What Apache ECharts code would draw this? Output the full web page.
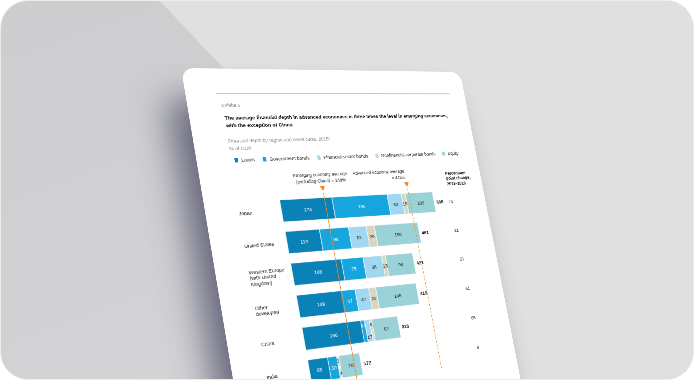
<!DOCTYPE html>
<html>
<head>
<meta charset="utf-8">
<title>Financial depth by region</title>
<script src="https://cdn.jsdelivr.net/npm/echarts@6.0.0/dist/echarts.min.js"></script>
<style>
  html, body { margin: 0; padding: 0; background: #ffffff; }
  #frame {
    position: absolute; left: 0; top: 0; width: 692px; height: 378px;
    border: 1px solid #ececec; border-radius: 28px; overflow: hidden;
    background: linear-gradient(160deg, #cdcdcf 0%, #d2d2d4 60%, #d8d8da 100%);
  }
  #light {
    position: absolute; left: 0; top: 0; width: 694px; height: 380px;
    background: #e0e0e0;
    clip-path: polygon(159px 0, 694px 0, 694px 380px, 517px 380px);
  }
  #paper {
    position: absolute; left: 0; top: 0; width: 560px; height: 760px;
    background: #ffffff; border-radius: 22px; transform-origin: 0 0;
    box-shadow: -34px 55px 60px rgba(55, 55, 85, 0.68);
  }
  #chart { width: 560px; height: 760px; }
</style>
</head>
<body>
<div id="frame">
  <div id="light"></div>
  <div id="paper"><div id="chart"></div></div>
</div>
<script>
// data (% of GDP, 2015)
const categories = ['Japan', 'United States', 'Western Europe\n(with United\nKingdom)', 'Other\ndeveloped', 'China', 'India'];
const loans = [174, 113, 168, 149, 196, 65];
const governmentBonds = [195, 99, 75, 47, 13, 30];
const financialBonds = [52, 62, 66, 47, 17, 3];
const nonfinancialBonds = [15, 29, 13, 25, 8, 4];
const equity = [102, 158, 99, 145, 91, 70];
const ppChange = [75, 21, 21, 61, 65, 9];
const emergingAverage = 149;
const advancedAverage = 448;

const seriesNames = ['Loans', 'Government bonds', 'Financial sector bonds', 'Nonfinancial corporate bonds', 'Equity'];
const seriesColors = ['#0a82b7', '#16a5dd', '#a2d7f1', '#d8d5c1', '#9ad2d8'];
const labelColors = ['#ffffff', '#ffffff', '#222222', '#222222', '#222222'];
const orange = '#f0892c';
// small segments get their label pushed up / down so they don't collide
const labelShift = { 1: { 4: -11 }, 2: { 4: 11, 5: -11 }, 3: { 4: -11, 5: 11 } };

// page is drawn flat, then bent onto the tilted sheet with a homography
function homography(src, dst) {
  const A = [], b = [];
  for (let i = 0; i < 4; i++) {
    const [x, y] = src[i], [X, Y] = dst[i];
    A.push([x, y, 1, 0, 0, 0, -x * X, -y * X]); b.push(X);
    A.push([0, 0, 0, x, y, 1, -x * Y, -y * Y]); b.push(Y);
  }
  const n = 8;
  for (let c = 0; c < n; c++) {
    let p = c;
    for (let r = c + 1; r < n; r++) if (Math.abs(A[r][c]) > Math.abs(A[p][c])) p = r;
    [A[c], A[p]] = [A[p], A[c]]; [b[c], b[p]] = [b[p], b[c]];
    for (let r = c + 1; r < n; r++) {
      const f = A[r][c] / A[c][c];
      for (let k = c; k < n; k++) A[r][k] -= f * A[c][k];
      b[r] -= f * b[c];
    }
  }
  const h = new Array(n);
  for (let r = n - 1; r >= 0; r--) {
    let s = b[r];
    for (let k = r + 1; k < n; k++) s -= A[r][k] * h[k];
    h[r] = s / A[r][r];
  }
  return h;
}
const h = homography(
  [[0, 0], [560, 0], [560, 548], [0, 548]],
  [[180, 67], [459, 71], [511.8, 339.1], [232.1, 379]]
);
document.getElementById('paper').style.transform =
  'matrix3d(' + [h[0], h[3], 0, h[6], h[1], h[4], 0, h[7], 0, 0, 1, 0, h[2], h[5], 0, 1].join(',') + ')';

const values = [loans, governmentBonds, financialBonds, nonfinancialBonds, equity];
const totals = categories.map((_, i) => values.reduce((s, arr) => s + arr[i], 0));

const series = seriesNames.map((name, k) => ({
  name: name,
  type: 'bar',
  stack: 'depth',
  barCategoryGap: '30%',
  itemStyle: { color: seriesColors[k], borderColor: '#ffffff', borderWidth: 0.6 },
  label: { show: true, position: 'inside', color: labelColors[k], fontSize: 9 },
  data: values[k].map((v, i) => {
    const dy = (labelShift[k] || {})[i];
    return dy ? { value: v, label: { offset: [0, dy] } } : v;
  })
}));

// averages: orange lines with a triangle and a note on top
series[0].markLine = {
  silent: true,
  symbol: ['none', 'none'],
  label: { show: false },
  lineStyle: { color: orange, width: 1.3 },
  data: [
    { xAxis: emergingAverage, lineStyle: { type: 'solid' } },
    { xAxis: advancedAverage, lineStyle: { type: [4, 3] } }
  ]
};
series[0].markPoint = {
  silent: true,
  symbol: 'triangle',
  symbolRotate: 180,
  symbolSize: [10, 9],
  symbolOffset: [0, -37],
  itemStyle: { color: orange },
  label: { show: true, position: 'top', distance: 5, color: '#222', fontSize: 8.5, lineHeight: 11.5 },
  data: [
    { coord: [emergingAverage, 0], label: { formatter: 'Emerging economy average\n(excluding China) = ' + emergingAverage + '%' } },
    { coord: [advancedAverage, 0], label: { align: 'right', formatter: 'Advanced economy average\n= ' + advancedAverage + '%' } }
  ]
};

series.push({
  name: 'Total',
  type: 'bar',
  stack: 'depth',
  data: totals.map(() => 0),
  label: {
    show: true, position: 'right', distance: 5, fontSize: 9, fontWeight: 'bold', color: '#111',
    formatter: p => totals[p.dataIndex]
  }
});

const chart = echarts.init(document.getElementById('chart'), null, { renderer: 'svg' });
chart.setOption({
  animation: false,
  textStyle: { fontFamily: "'Liberation Sans Narrow', 'Liberation Sans', Arial, sans-serif" },
  title: [
    { text: 'Exhibit 5', left: 55, top: 58, textStyle: { fontSize: 9, fontWeight: 'normal', color: '#888' } },
    {
      text: 'The average financial depth in advanced economies is three times the level in emerging economies,\nwith the exception of China',
      left: 57, top: 79,
      textStyle: { fontSize: 9.5, fontWeight: 'bold', color: '#000', lineHeight: 14 }
    },
    {
      text: 'Financial depth by region and asset class, 2015\u00b9\n% of GDP',
      left: 56, top: 121,
      textStyle: { fontSize: 9, fontWeight: 'normal', color: '#888', lineHeight: 14 }
    },
    {
      text: 'Percentage\npoint change,\n2011\u20132016',
      left: 476, top: 197,
      textStyle: { fontSize: 8.5, fontWeight: 'bold', color: '#111', lineHeight: 10.5 }
    }
  ],
  graphic: [
    { type: 'line', shape: { x1: 54, y1: 46, x2: 526, y2: 46 }, style: { stroke: '#c4c4c4', lineWidth: 2.2 } }
  ],
  legend: {
    data: seriesNames, left: 60, top: 157, icon: 'rect', itemWidth: 8, itemHeight: 10, itemGap: 13,
    textStyle: { fontSize: 9, color: '#222' }
  },
  grid: { left: 136, top: 234.6, width: 333.1, height: 346.2 },
  xAxis: { type: 'value', min: 0, max: 580, show: false },
  yAxis: [
    {
      type: 'category', data: categories, inverse: true,
      axisLine: { show: false }, axisTick: { show: false },
      axisLabel: { interval: 0, align: 'left', margin: 78, fontSize: 9, color: '#222', lineHeight: 10.5 }
    },
    {
      type: 'category', data: categories, inverse: true, position: 'right',
      axisLine: { show: false }, axisTick: { show: false },
      axisLabel: { interval: 0, align: 'left', margin: 8, fontSize: 9, color: '#222', formatter: (v, i) => ppChange[i] }
    }
  ],
  series: series
});
</script>
</body>
</html>
